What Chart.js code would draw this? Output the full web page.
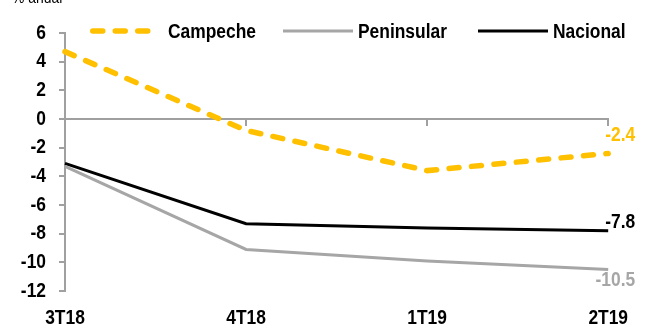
<!DOCTYPE html>
<html>
<head>
<meta charset="utf-8">
<script src="https://cdn.jsdelivr.net/npm/chart.js@4/dist/chart.umd.min.js"></script>
<style>
  html, body { margin: 0; padding: 0; background: #fff; }
  #wrap { width: 646px; height: 327px; }
</style>
</head>
<body>
<div id="wrap"><canvas id="c" width="646" height="327"></canvas></div>
<script>
// Quarterly series, annual % change
const quarters = ['3T18', '4T18', '1T19', '2T19'];
const campeche = [4.7, -0.8, -3.6, -2.4];
const peninsular = [-3.3, -9.1, -9.9, -10.5];
const nacional = [-3.1, -7.3, -7.6, -7.8];
const yTicks = [6, 4, 2, 0, -2, -4, -6, -8, -10, -12];

const FONT = '"Liberation Sans", Arial, sans-serif';
const AXIS_GREY = '#A0A0A0';
// horizontal squeeze applied to all text, giving a narrow bold face
const TEXT_SX = 0.87;

// Condensed text: every fillText on this chart is squeezed around its anchor point
const narrowText = {
  id: 'narrowText',
  beforeInit(chart) {
    const ctx = chart.ctx;
    const orig = ctx.fillText;
    ctx.fillText = function (text, x, y, maxWidth) {
      this.save();
      this.translate(x, y);
      this.scale(TEXT_SX, 1);
      if (maxWidth !== undefined) orig.call(this, text, 0, 0, maxWidth / TEXT_SX);
      else orig.call(this, text, 0, 0);
      this.restore();
    };
  }
};

// Unit caption, legend row and end-of-line value labels
const decorations = {
  id: 'decorations',
  afterDatasetsDraw(chart) {
    const ctx = chart.ctx;
    ctx.save();

    // unit caption, mostly above the top edge
    ctx.font = '16px ' + FONT;
    ctx.fillStyle = '#000';
    ctx.textAlign = 'left';
    ctx.textBaseline = 'alphabetic';
    ctx.fillText('% anual', 12, 3);

    // legend row
    const legendY = 31;
    const lineStarts = [90, 283, 478];
    const lineLens = [63, 70, 70];
    const textGaps = [15, 5, 5];
    ctx.font = 'bold 20px ' + FONT;
    ctx.textBaseline = 'middle';
    chart.data.datasets.forEach((ds, i) => {
      const x = lineStarts[i];
      const capInset = ds.borderCapStyle === 'round' ? ds.borderWidth / 2 : 0;
      ctx.save();
      ctx.strokeStyle = ds.borderColor;
      ctx.lineWidth = ds.borderWidth;
      ctx.lineCap = ds.borderCapStyle || 'butt';
      ctx.setLineDash(ds.borderDash || []);
      ctx.beginPath();
      ctx.moveTo(x + capInset, legendY);
      ctx.lineTo(x + lineLens[i] - capInset, legendY);
      ctx.stroke();
      ctx.restore();
      ctx.fillStyle = '#000';
      ctx.fillText(ds.label, x + lineLens[i] + textGaps[i], legendY + 1);
    });

    // value labels at the last quarter
    ctx.font = 'bold 20px ' + FONT;
    ctx.textAlign = 'right';
    ctx.textBaseline = 'middle';
    chart.data.datasets.forEach((ds, i) => {
      const meta = chart.getDatasetMeta(i);
      const last = meta.data.length - 1;
      const pt = meta.data[last];
      const v = ds.data[last];
      ctx.fillStyle = ds.labelColor;
      ctx.fillText(v.toFixed(1), pt.x + 27, pt.y + ds.labelDy);
    });
    ctx.restore();
  }
};

new Chart(document.getElementById('c'), {
  type: 'line',
  data: {
    labels: quarters,
    datasets: [
      {
        label: 'Campeche',
        data: campeche,
        borderColor: '#FFC000',
        borderWidth: 5.5,
        borderDash: [10, 12.5],
        borderCapStyle: 'round',
        labelColor: '#FFC000',
        labelDy: -18
      },
      {
        label: 'Peninsular',
        data: peninsular,
        borderColor: '#A6A6A6',
        borderWidth: 3,
        labelColor: '#A6A6A6',
        labelDy: 11
      },
      {
        label: 'Nacional',
        data: nacional,
        borderColor: '#000000',
        borderWidth: 3,
        labelColor: '#000000',
        labelDy: -8
      }
    ]
  },
  options: {
    responsive: false,
    animation: false,
    devicePixelRatio: 1,
    layout: { padding: { top: 33, right: 30, bottom: 0, left: 0 } },
    elements: {
      point: { radius: 0, hoverRadius: 0 },
      line: { tension: 0, fill: false }
    },
    datasets: { line: { clip: false } },
    plugins: {
      legend: { display: false },
      tooltip: { enabled: false }
    },
    scales: {
      x: {
        type: 'category',
        position: 'bottom',
        offset: false,
        grid: { display: false, drawTicks: false },
        border: { display: false },
        ticks: {
          color: '#000',
          font: { family: FONT, size: 20, weight: 'bold' },
          padding: 15,
          maxRotation: 0,
          autoSkip: false
        },
        afterFit(scale) { scale.height = 36; }
      },
      xZero: {
        type: 'category',
        labels: quarters,
        position: { y: 0 },
        offset: false,
        grid: {
          drawOnChartArea: false,
          drawTicks: true,
          tickLength: 6,
          color: AXIS_GREY,
          lineWidth: 2
        },
        border: { display: true, color: AXIS_GREY, width: 2 },
        ticks: { display: false }
      },
      y: {
        min: -12,
        max: 6,
        afterBuildTicks(scale) { scale.ticks = yTicks.map(v => ({ value: v })); },
        grid: {
          drawOnChartArea: false,
          drawTicks: true,
          tickLength: 6,
          color: AXIS_GREY,
          lineWidth: 2
        },
        border: { display: true, color: AXIS_GREY, width: 2 },
        ticks: {
          color: '#000',
          font: { family: FONT, size: 20, weight: 'bold' },
          padding: 13
        },
        afterFit(scale) { scale.width = 65; }
      }
    }
  },
  plugins: [narrowText, decorations]
});
</script>
</body>
</html>
